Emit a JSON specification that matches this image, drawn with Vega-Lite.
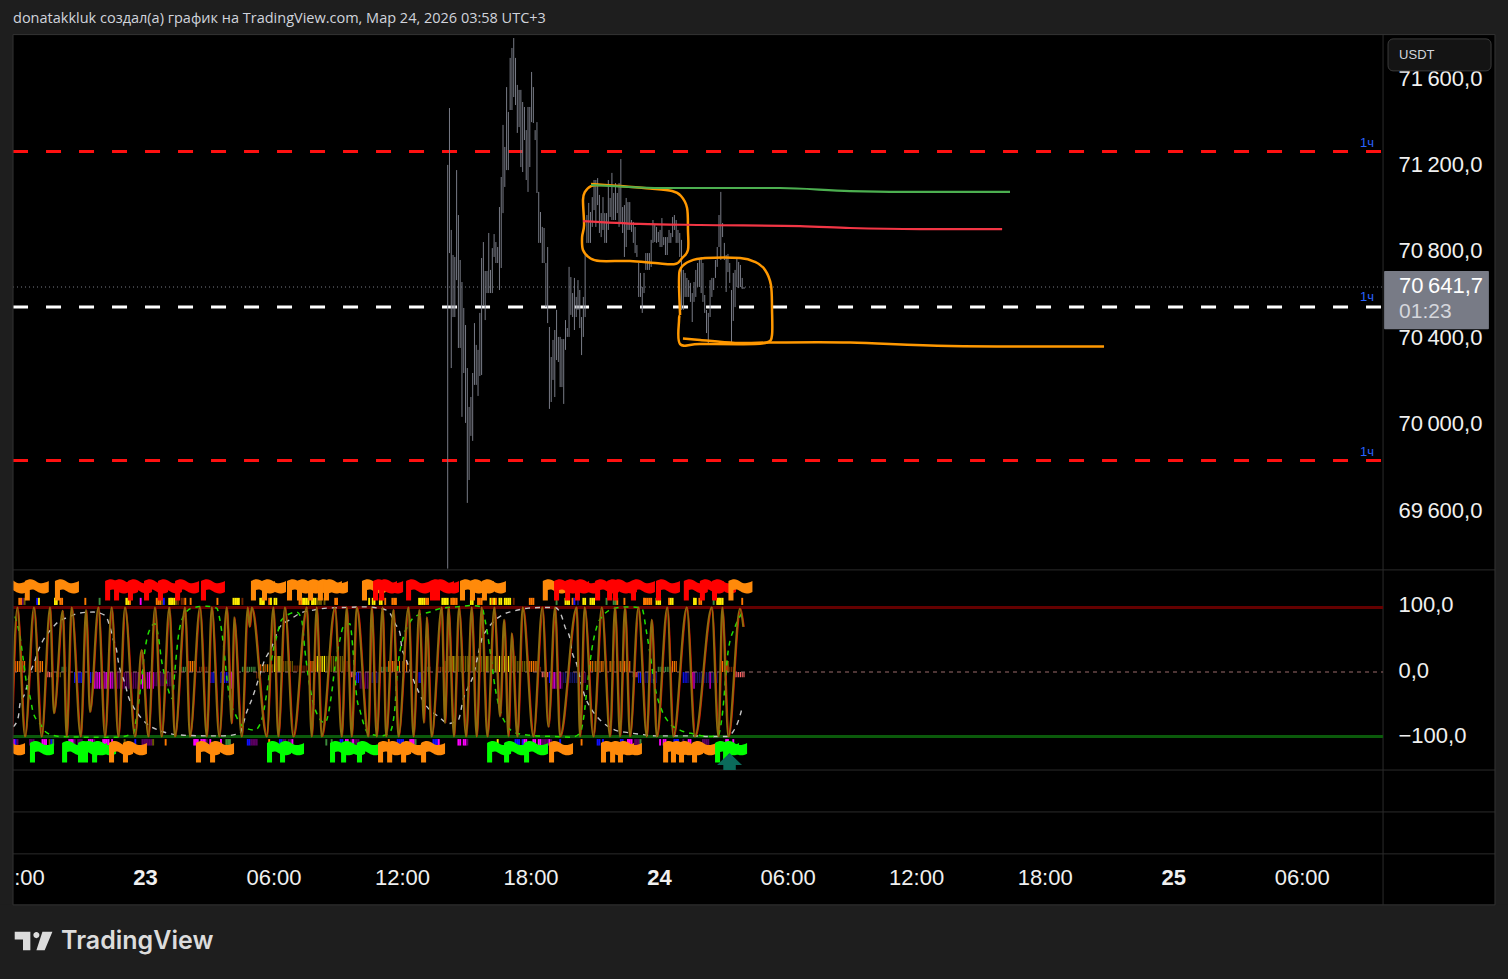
{
"$schema":"https://vega.github.io/schema/vega-lite/v6.json",
"width":1508,"height":979,"padding":0,"autosize":{"type":"none"},
"background":"#1e1e1e",
"view":{"fill":"#000000","stroke":null},
"config":{"axis":{"title":null,"grid":false,"domain":false,"ticks":false,"labelColor":"#f0f0f0","labelFont":"Liberation Sans","labelFontSize":22,"labelPadding":0,"labelOverlap":false,"labelBound":false,"labelFlush":false}},
"datasets":{
"bars":[
{"b":169,"p":71198,"p2":69330},{"b":170,"p":71461,"p2":70790},{"b":171,"p":70897,"p2":70258},{"b":172,"p":70781,"p2":70494},{"b":173,"p":70772,"p2":70494},{"b":174,"p":71174,"p2":70665},{"b":175,"p":70966,"p2":70351},{"b":176,"p":70758,"p2":70351},{"b":177,"p":70656,"p2":70032},{"b":178,"p":70536,"p2":70235},{"b":179,"p":70457,"p2":70004},{"b":180,"p":70258,"p2":69634},{"b":181,"p":70078,"p2":69740},{"b":182,"p":70124,"p2":69944},{"b":183,"p":70235,"p2":69921},{"b":184,"p":70466,"p2":70180},{"b":185,"p":70365,"p2":70180},{"b":186,"p":70342,"p2":70129},{"b":187,"p":70513,"p2":70221},{"b":188,"p":70767,"p2":70226},{"b":189,"p":70841,"p2":70545},{"b":190,"p":70707,"p2":70480},{"b":191,"p":70707,"p2":70605},{"b":192,"p":70883,"p2":70605},{"b":193,"p":70712,"p2":70605},{"b":194,"p":70813,"p2":70605},{"b":195,"p":70878,"p2":70772},{"b":196,"p":70841,"p2":70744},{"b":197,"p":70818,"p2":70744},{"b":198,"p":71003,"p2":70619},{"b":199,"p":71142,"p2":70721},{"b":200,"p":71383,"p2":70975},{"b":201,"p":71281,"p2":71096},{"b":202,"p":71558,"p2":71174},{"b":203,"p":71443,"p2":71174},{"b":204,"p":71693,"p2":71452},{"b":205,"p":71739,"p2":71452},{"b":206,"p":71785,"p2":71512},{"b":207,"p":71693,"p2":71475},{"b":208,"p":71568,"p2":71346},{"b":209,"p":71545,"p2":71373},{"b":210,"p":71545,"p2":71188},{"b":211,"p":71489,"p2":71165},{"b":212,"p":71466,"p2":71313},{"b":213,"p":71359,"p2":71128},{"b":214,"p":71466,"p2":71073},{"b":215,"p":71466,"p2":71188},{"b":216,"p":71628,"p2":71396},{"b":217,"p":71558,"p2":71392},{"b":218,"p":71359,"p2":71313},{"b":219,"p":71396,"p2":71068},{"b":220,"p":71073,"p2":70837},{"b":221,"p":70980,"p2":70837},{"b":222,"p":70911,"p2":70744},{"b":223,"p":70906,"p2":70744},{"b":224,"p":70744,"p2":70540},{"b":225,"p":70818,"p2":70466},{"b":226,"p":70448,"p2":70069},{"b":227,"p":70309,"p2":70101},{"b":228,"p":70388,"p2":70203},{"b":229,"p":70434,"p2":70124},{"b":230,"p":70527,"p2":70295},{"b":231,"p":70402,"p2":70286},{"b":232,"p":70402,"p2":70170},{"b":233,"p":70392,"p2":70170},{"b":234,"p":70392,"p2":70092},{"b":235,"p":70480,"p2":70342},{"b":236,"p":70443,"p2":70402},{"b":237,"p":70726,"p2":70402},{"b":238,"p":70679,"p2":70504},{"b":239,"p":70605,"p2":70494},{"b":240,"p":70675,"p2":70434},{"b":241,"p":70587,"p2":70494},{"b":242,"p":70665,"p2":70527},{"b":243,"p":70619,"p2":70443},{"b":244,"p":70494,"p2":70318},{"b":245,"p":70587,"p2":70402},{"b":246,"p":70790,"p2":70494},{"b":247,"p":70966,"p2":70837},{"b":248,"p":71022,"p2":70837},{"b":249,"p":70980,"p2":70837},{"b":250,"p":71049,"p2":70911},{"b":251,"p":71128,"p2":70989},{"b":252,"p":71128,"p2":70911},{"b":253,"p":71137,"p2":71012},{"b":254,"p":71059,"p2":70883},{"b":255,"p":70975,"p2":70864},{"b":256,"p":71049,"p2":70897},{"b":257,"p":70975,"p2":70837},{"b":258,"p":70975,"p2":70837},{"b":259,"p":71128,"p2":70897},{"b":260,"p":71045,"p2":70957},{"b":261,"p":71161,"p2":70943},{"b":262,"p":71068,"p2":70943},{"b":263,"p":71114,"p2":70943},{"b":264,"p":71068,"p2":70975},{"b":265,"p":71114,"p2":70911},{"b":266,"p":71225,"p2":70929},{"b":267,"p":71003,"p2":70883},{"b":268,"p":71012,"p2":70772},{"b":269,"p":71045,"p2":70818},{"b":270,"p":71026,"p2":70897},{"b":271,"p":71026,"p2":70897},{"b":272,"p":70943,"p2":70888},{"b":273,"p":70934,"p2":70837},{"b":274,"p":70911,"p2":70790},{"b":275,"p":70827,"p2":70772},{"b":276,"p":70744,"p2":70587},{"b":277,"p":70698,"p2":70587},{"b":278,"p":70633,"p2":70513},{"b":279,"p":70698,"p2":70605},{"b":280,"p":70790,"p2":70712},{"b":281,"p":70790,"p2":70712},{"b":282,"p":70790,"p2":70712},{"b":283,"p":70851,"p2":70726},{"b":284,"p":70943,"p2":70837},{"b":285,"p":70920,"p2":70841},{"b":286,"p":70911,"p2":70837},{"b":287,"p":70888,"p2":70841},{"b":288,"p":70897,"p2":70818},{"b":289,"p":70952,"p2":70818},{"b":290,"p":70864,"p2":70827},{"b":291,"p":70864,"p2":70781},{"b":292,"p":70864,"p2":70781},{"b":293,"p":70897,"p2":70837},{"b":294,"p":70883,"p2":70837},{"b":295,"p":70957,"p2":70864},{"b":296,"p":70966,"p2":70897},{"b":297,"p":70943,"p2":70837},{"b":298,"p":70897,"p2":70837},{"b":299,"p":70883,"p2":70772},{"b":300,"p":70851,"p2":70527},{"b":301,"p":70712,"p2":70527},{"b":302,"p":70698,"p2":70587},{"b":303,"p":70675,"p2":70587},{"b":304,"p":70665,"p2":70587},{"b":305,"p":70652,"p2":70564},{"b":306,"p":70605,"p2":70471},{"b":307,"p":70656,"p2":70564},{"b":308,"p":70712,"p2":70587},{"b":309,"p":70744,"p2":70633},{"b":310,"p":70758,"p2":70633},{"b":311,"p":70772,"p2":70605},{"b":312,"p":70744,"p2":70564},{"b":313,"p":70596,"p2":70513},{"b":314,"p":70527,"p2":70420},{"b":315,"p":70513,"p2":70365},{"b":316,"p":70665,"p2":70494},{"b":317,"p":70675,"p2":70587},{"b":318,"p":70675,"p2":70619},{"b":319,"p":70758,"p2":70675},{"b":320,"p":70818,"p2":70726},{"b":321,"p":70966,"p2":70818},{"b":322,"p":71073,"p2":70758},{"b":323,"p":70929,"p2":70864},{"b":324,"p":70837,"p2":70758},{"b":325,"p":70781,"p2":70610},{"b":326,"p":70786,"p2":70702},{"b":327,"p":70744,"p2":70652},{"b":328,"p":70619,"p2":70374},{"b":329,"p":70698,"p2":70476},{"b":330,"p":70712,"p2":70540},{"b":331,"p":70772,"p2":70633},{"b":332,"p":70749,"p2":70628},{"b":333,"p":70735,"p2":70633},{"b":334,"p":70675,"p2":70624},{"b":335,"p":70633,"p2":70624}
],
"levels":[{"b":-74.5,"b2":691.9,"p":71260,"c":"#ff1010"},{"b":-74.5,"b2":691.9,"p":70540,"c":"#ffffff"},{"b":-74.5,"b2":691.9,"p":69830,"c":"#ff1010"}],
"drawings":[
{"s":"g","i":1,"b":249.3,"p":71105},{"s":"g","i":2,"b":265.5,"p":71098},{"s":"g","i":3,"b":288,"p":71091},{"s":"g","i":4,"b":310.4,"p":71091},{"s":"g","i":5,"b":355.2,"p":71091},{"s":"g","i":6,"b":394.4,"p":71077},{"s":"g","i":7,"b":439.2,"p":71073},{"s":"g","i":8,"b":484,"p":71073},
{"s":"r","i":1,"b":244.8,"p":70938},{"s":"r","i":2,"b":276.7,"p":70925},{"s":"r","i":3,"b":310.4,"p":70920},{"s":"r","i":4,"b":366.4,"p":70915},{"s":"r","i":5,"b":394.4,"p":70906},{"s":"r","i":6,"b":433.6,"p":70901},{"s":"r","i":7,"b":479.6,"p":70901},
{"s":"a","i":1,"b":249.3,"p":71110},{"s":"a","i":2,"b":265.5,"p":71100},{"s":"a","i":3,"b":282.4,"p":71089},{"s":"a","i":4,"b":294.7,"p":71077},{"s":"a","i":5,"b":299.7,"p":71054},{"s":"a","i":6,"b":303.1,"p":70999},{"s":"a","i":7,"b":303.6,"p":70897},{"s":"a","i":8,"b":303.6,"p":70804},{"s":"a","i":9,"b":300.3,"p":70767},{"s":"a","i":10,"b":296.4,"p":70739},{"s":"a","i":11,"b":285.2,"p":70744},{"s":"a","i":12,"b":271.1,"p":70753},{"s":"a","i":13,"b":254.3,"p":70753},{"s":"a","i":14,"b":248.7,"p":70767},{"s":"a","i":15,"b":244.8,"p":70804},{"s":"a","i":16,"b":244.3,"p":70864},{"s":"a","i":17,"b":245.4,"p":70920},{"s":"a","i":18,"b":244.8,"p":71036},{"s":"a","i":19,"b":245.9,"p":71073},{"s":"a","i":20,"b":249.3,"p":71100},{"s":"a","i":21,"b":255.5,"p":71105},
{"s":"c","i":1,"b":299.2,"p":70503},{"s":"c","i":2,"b":298.6,"p":70665},{"s":"c","i":3,"b":299.7,"p":70721},{"s":"c","i":4,"b":304.8,"p":70753},{"s":"c","i":5,"b":313.2,"p":70767},{"s":"c","i":6,"b":332.8,"p":70767},{"s":"c","i":7,"b":341.2,"p":70749},{"s":"c","i":8,"b":346.8,"p":70712},{"s":"c","i":9,"b":350.1,"p":70642},{"s":"c","i":10,"b":350.7,"p":70527},{"s":"c","i":11,"b":350.7,"p":70411},{"s":"c","i":12,"b":348.5,"p":70379},{"s":"c","i":13,"b":341.2,"p":70369},{"s":"c","i":14,"b":310.4,"p":70369},{"s":"c","i":15,"b":299.2,"p":70369},{"s":"c","i":16,"b":298.6,"p":70480},{"s":"c","i":17,"b":299.2,"p":70503},
{"s":"d","i":1,"b":300.8,"p":70395},{"s":"d","i":2,"b":310.4,"p":70388},{"s":"d","i":3,"b":330,"p":70374},{"s":"d","i":4,"b":349.6,"p":70376},{"s":"d","i":5,"b":394.4,"p":70376},{"s":"d","i":6,"b":450.4,"p":70360},{"s":"d","i":7,"b":536.7,"p":70358}
],
"hist":[
{"b":-73,"v":17,"c":"o"},{"b":-72,"v":17,"c":"o"},{"b":-71,"v":17,"c":"o"},{"b":-70,"v":17,"c":"o"},{"b":-69,"v":17,"c":"o"},{"b":-68,"v":17,"c":"o"},{"b":-62,"v":17,"c":"o"},{"b":-61,"v":17,"c":"o"},{"b":-60,"v":17,"c":"o"},{"b":-59,"v":17,"c":"o"},{"b":-58,"v":17,"c":"o"},{"b":-56,"v":-8,"c":"k"},{"b":-55,"v":-8,"c":"k"},{"b":-54,"v":-8,"c":"k"},{"b":-53,"v":-8,"c":"k"},{"b":-50,"v":-8,"c":"l"},{"b":-49,"v":-8,"c":"l"},{"b":-48,"v":-8,"c":"l"},{"b":-47,"v":8,"c":"g"},{"b":-46,"v":8,"c":"g"},{"b":-45,"v":8,"c":"g"},
{"b":-40,"v":-17,"c":"b"},{"b":-39,"v":-17,"c":"b"},{"b":-38,"v":-17,"c":"b"},{"b":-37,"v":-17,"c":"b"},{"b":-36,"v":-17,"c":"b"},{"b":-35,"v":-17,"c":"b"},{"b":-31,"v":-17,"c":"b"},{"b":-30,"v":-17,"c":"b"},{"b":-29,"v":-26,"c":"m"},{"b":-28,"v":-26,"c":"m"},{"b":-27,"v":-26,"c":"m"},{"b":-26,"v":-26,"c":"m"},{"b":-25,"v":-26,"c":"m"},{"b":-24,"v":-26,"c":"p"},{"b":-23,"v":-26,"c":"m"},{"b":-22,"v":-26,"c":"m"},{"b":-21,"v":-26,"c":"p"},{"b":-20,"v":-26,"c":"m"},{"b":-19,"v":-26,"c":"m"},{"b":-18,"v":-26,"c":"p"},{"b":-17,"v":-26,"c":"m"},{"b":-16,"v":-26,"c":"p"},{"b":-15,"v":-26,"c":"p"},{"b":-14,"v":-26,"c":"p"},{"b":-13,"v":-26,"c":"p"},{"b":-12,"v":-26,"c":"p"},{"b":-11,"v":-26,"c":"p"},{"b":-10,"v":-26,"c":"p"},{"b":-9,"v":-26,"c":"p"},{"b":-8,"v":-26,"c":"p"},{"b":-7,"v":-26,"c":"p"},{"b":-6,"v":-26,"c":"p"},{"b":-5,"v":-26,"c":"p"},{"b":-4,"v":-26,"c":"m"},{"b":-3,"v":-26,"c":"p"},{"b":-2,"v":-26,"c":"m"},{"b":-1,"v":-26,"c":"m"},{"b":0,"v":-26,"c":"p"},{"b":1,"v":-26,"c":"m"},{"b":2,"v":-26,"c":"m"},{"b":3,"v":-26,"c":"p"},{"b":4,"v":-26,"c":"m"},{"b":5,"v":-22,"c":"p"},{"b":6,"v":-22,"c":"p"},{"b":7,"v":-22,"c":"p"},{"b":8,"v":-22,"c":"p"},{"b":9,"v":-22,"c":"p"},{"b":10,"v":-22,"c":"p"},{"b":11,"v":-22,"c":"p"},{"b":12,"v":-22,"c":"p"},{"b":13,"v":-22,"c":"p"},{"b":14,"v":-22,"c":"p"},{"b":15,"v":-22,"c":"p"},
{"b":19,"v":8,"c":"g"},{"b":20,"v":8,"c":"g"},{"b":21,"v":8,"c":"g"},{"b":22,"v":8,"c":"g"},{"b":24,"v":17,"c":"o"},{"b":25,"v":17,"c":"o"},{"b":26,"v":17,"c":"o"},{"b":27,"v":17,"c":"o"},{"b":28,"v":17,"c":"o"},{"b":30,"v":8,"c":"r"},{"b":31,"v":8,"c":"r"},{"b":32,"v":8,"c":"r"},{"b":33,"v":8,"c":"r"},{"b":34,"v":8,"c":"r"},{"b":36,"v":-17,"c":"b"},{"b":37,"v":-17,"c":"b"},{"b":38,"v":-17,"c":"b"},{"b":42,"v":-17,"c":"b"},{"b":43,"v":-17,"c":"b"},{"b":44,"v":-17,"c":"b"},{"b":45,"v":-17,"c":"b"},{"b":46,"v":-17,"c":"b"},{"b":47,"v":-26,"c":"m"},{"b":48,"v":-26,"c":"m"},{"b":49,"v":-26,"c":"m"},{"b":54,"v":8,"c":"g"},{"b":55,"v":8,"c":"g"},{"b":56,"v":8,"c":"g"},{"b":57,"v":8,"c":"g"},{"b":58,"v":8,"c":"g"},{"b":59,"v":8,"c":"g"},{"b":60,"v":8,"c":"g"},{"b":61,"v":8,"c":"g"},{"b":62,"v":-10,"c":"r"},{"b":63,"v":-10,"c":"r"},{"b":64,"v":12,"c":"o"},{"b":65,"v":12,"c":"l"},{"b":66,"v":12,"c":"o"},{"b":67,"v":12,"c":"l"},{"b":68,"v":12,"c":"o"},{"b":69,"v":12,"c":"l"},{"b":70,"v":12,"c":"o"},{"b":71,"v":12,"c":"l"},{"b":72,"v":25,"c":"y"},{"b":73,"v":25,"c":"l"},{"b":74,"v":25,"c":"y"},{"b":75,"v":25,"c":"y"},{"b":76,"v":17,"c":"l"},{"b":77,"v":17,"c":"l"},{"b":78,"v":17,"c":"l"},{"b":79,"v":17,"c":"l"},{"b":80,"v":17,"c":"l"},{"b":81,"v":17,"c":"l"},{"b":82,"v":17,"c":"l"},{"b":83,"v":10,"c":"r"},{"b":84,"v":10,"c":"r"},{"b":85,"v":10,"c":"r"},{"b":86,"v":10,"c":"r"},{"b":87,"v":10,"c":"r"},{"b":88,"v":10,"c":"r"},{"b":89,"v":10,"c":"r"},{"b":90,"v":10,"c":"r"},{"b":91,"v":17,"c":"o"},{"b":92,"v":17,"c":"o"},{"b":93,"v":17,"c":"o"},{"b":94,"v":17,"c":"o"},{"b":95,"v":25,"c":"y"},{"b":96,"v":25,"c":"y"},{"b":97,"v":25,"c":"l"},{"b":98,"v":25,"c":"y"},{"b":99,"v":25,"c":"y"},{"b":100,"v":25,"c":"y"},{"b":101,"v":25,"c":"l"},{"b":102,"v":25,"c":"l"},{"b":103,"v":25,"c":"l"},{"b":104,"v":25,"c":"l"},{"b":105,"v":25,"c":"l"},{"b":106,"v":25,"c":"l"},{"b":107,"v":25,"c":"l"},{"b":108,"v":25,"c":"l"},{"b":109,"v":25,"c":"l"},{"b":110,"v":25,"c":"l"},{"b":111,"v":17,"c":"r"},{"b":112,"v":17,"c":"r"},{"b":113,"v":17,"c":"r"},{"b":115,"v":-8,"c":"k"},{"b":116,"v":-8,"c":"k"},{"b":117,"v":-17,"c":"b"},{"b":118,"v":-17,"c":"b"},{"b":119,"v":-17,"c":"b"},{"b":120,"v":-26,"c":"p"},{"b":121,"v":-26,"c":"p"},{"b":122,"v":-26,"c":"p"},{"b":123,"v":-26,"c":"p"},{"b":124,"v":-26,"c":"p"},{"b":125,"v":-26,"c":"p"},{"b":126,"v":-17,"c":"d"},{"b":127,"v":-17,"c":"d"},{"b":128,"v":-17,"c":"d"},{"b":129,"v":-17,"c":"d"},{"b":130,"v":-17,"c":"d"},{"b":131,"v":-17,"c":"d"},{"b":132,"v":8,"c":"g"},{"b":133,"v":8,"c":"g"},{"b":134,"v":8,"c":"g"},{"b":135,"v":8,"c":"g"},
{"b":136,"v":17,"c":"o"},{"b":137,"v":17,"c":"o"},{"b":138,"v":17,"c":"o"},{"b":139,"v":17,"c":"o"},{"b":140,"v":17,"c":"o"},{"b":142,"v":17,"c":"o"},{"b":144,"v":17,"c":"o"},{"b":146,"v":17,"c":"o"},{"b":148,"v":17,"c":"o"},{"b":153,"v":-17,"c":"b"},{"b":154,"v":-17,"c":"b"},{"b":158,"v":8,"c":"g"},{"b":159,"v":8,"c":"g"},{"b":163,"v":8,"c":"r"},{"b":164,"v":8,"c":"r"},{"b":165,"v":8,"c":"r"},{"b":166,"v":8,"c":"r"},{"b":167,"v":17,"c":"l"},{"b":168,"v":17,"c":"l"},{"b":169,"v":25,"c":"y"},{"b":170,"v":25,"c":"l"},{"b":171,"v":25,"c":"y"},{"b":172,"v":25,"c":"y"},{"b":173,"v":25,"c":"l"},{"b":174,"v":25,"c":"y"},{"b":175,"v":25,"c":"l"},{"b":176,"v":25,"c":"l"},{"b":177,"v":25,"c":"l"},{"b":178,"v":25,"c":"l"},{"b":179,"v":25,"c":"l"},{"b":180,"v":25,"c":"l"},{"b":181,"v":25,"c":"l"},{"b":182,"v":25,"c":"l"},{"b":183,"v":25,"c":"l"},{"b":184,"v":25,"c":"l"},{"b":185,"v":25,"c":"l"},{"b":186,"v":25,"c":"l"},{"b":187,"v":25,"c":"l"},{"b":188,"v":25,"c":"l"},{"b":189,"v":25,"c":"l"},{"b":190,"v":25,"c":"l"},{"b":191,"v":25,"c":"y"},{"b":192,"v":25,"c":"l"},{"b":193,"v":25,"c":"l"},{"b":194,"v":25,"c":"l"},{"b":195,"v":25,"c":"l"},{"b":196,"v":25,"c":"y"},{"b":197,"v":25,"c":"l"},{"b":198,"v":25,"c":"y"},{"b":199,"v":25,"c":"l"},{"b":200,"v":25,"c":"l"},{"b":201,"v":25,"c":"y"},{"b":202,"v":25,"c":"l"},{"b":203,"v":25,"c":"y"},{"b":204,"v":25,"c":"l"},{"b":205,"v":25,"c":"l"},{"b":206,"v":25,"c":"y"},{"b":207,"v":25,"c":"l"},{"b":208,"v":17,"c":"l"},{"b":209,"v":17,"c":"l"},{"b":210,"v":17,"c":"l"},{"b":211,"v":17,"c":"l"},{"b":212,"v":17,"c":"l"},{"b":213,"v":17,"c":"l"},{"b":214,"v":17,"c":"l"},{"b":215,"v":17,"c":"o"},{"b":216,"v":17,"c":"o"},{"b":217,"v":17,"c":"o"},{"b":218,"v":17,"c":"o"},{"b":219,"v":17,"c":"o"},{"b":220,"v":8,"c":"r"},{"b":221,"v":8,"c":"r"},{"b":222,"v":-8,"c":"k"},{"b":223,"v":-8,"c":"k"},{"b":224,"v":-8,"c":"k"},{"b":225,"v":-8,"c":"k"},{"b":226,"v":-17,"c":"b"},{"b":227,"v":-17,"c":"b"},{"b":228,"v":-26,"c":"m"},{"b":229,"v":-26,"c":"m"},{"b":230,"v":-26,"c":"p"},{"b":231,"v":-26,"c":"m"},{"b":232,"v":-26,"c":"m"},{"b":233,"v":-26,"c":"p"},{"b":234,"v":-17,"c":"d"},{"b":235,"v":-17,"c":"d"},{"b":236,"v":-17,"c":"d"},{"b":237,"v":-17,"c":"d"},{"b":238,"v":-17,"c":"d"},{"b":239,"v":-17,"c":"d"},{"b":240,"v":-17,"c":"d"},{"b":241,"v":-17,"c":"d"},{"b":242,"v":-17,"c":"d"},{"b":243,"v":-17,"c":"d"},{"b":244,"v":-17,"c":"p"},{"b":245,"v":-17,"c":"p"},{"b":246,"v":-17,"c":"p"},{"b":249,"v":17,"c":"o"},{"b":250,"v":17,"c":"o"},{"b":251,"v":17,"c":"l"},{"b":252,"v":17,"c":"o"},{"b":253,"v":17,"c":"o"},{"b":254,"v":17,"c":"l"},{"b":255,"v":17,"c":"o"},{"b":256,"v":17,"c":"o"},{"b":258,"v":17,"c":"o"},{"b":260,"v":17,"c":"o"},{"b":261,"v":17,"c":"l"},{"b":262,"v":17,"c":"o"},{"b":264,"v":17,"c":"o"},{"b":265,"v":17,"c":"l"},{"b":266,"v":17,"c":"o"},{"b":268,"v":17,"c":"o"},{"b":269,"v":17,"c":"o"},{"b":271,"v":17,"c":"o"},{"b":273,"v":-8,"c":"k"},{"b":274,"v":-8,"c":"k"},{"b":275,"v":-8,"c":"k"},{"b":276,"v":-17,"c":"b"},{"b":277,"v":-17,"c":"b"},{"b":278,"v":-17,"c":"d"},{"b":279,"v":-17,"c":"d"},{"b":280,"v":-17,"c":"d"},{"b":281,"v":-17,"c":"d"},{"b":282,"v":-17,"c":"d"},{"b":283,"v":-17,"c":"d"},{"b":284,"v":-17,"c":"d"},{"b":285,"v":-17,"c":"d"},{"b":286,"v":-17,"c":"d"},{"b":287,"v":8,"c":"g"},{"b":288,"v":8,"c":"g"},{"b":289,"v":8,"c":"g"},{"b":290,"v":8,"c":"g"},{"b":291,"v":8,"c":"g"},{"b":292,"v":8,"c":"g"},{"b":293,"v":8,"c":"g"},{"b":294,"v":8,"c":"g"},{"b":295,"v":17,"c":"o"},{"b":296,"v":17,"c":"o"},{"b":297,"v":17,"c":"o"},{"b":301,"v":-17,"c":"b"},{"b":302,"v":-17,"c":"b"},{"b":303,"v":-17,"c":"b"},{"b":304,"v":-17,"c":"d"},{"b":305,"v":-17,"c":"d"},{"b":306,"v":-26,"c":"m"},{"b":307,"v":-26,"c":"m"},{"b":308,"v":-17,"c":"d"},{"b":309,"v":-17,"c":"d"},{"b":310,"v":-17,"c":"d"},{"b":311,"v":-17,"c":"d"},{"b":312,"v":-17,"c":"d"},{"b":313,"v":-17,"c":"d"},{"b":314,"v":-17,"c":"d"},{"b":315,"v":-17,"c":"d"},{"b":316,"v":-26,"c":"m"},{"b":317,"v":-17,"c":"d"},{"b":318,"v":-17,"c":"d"},{"b":319,"v":-17,"c":"d"},{"b":320,"v":-17,"c":"d"},{"b":323,"v":17,"c":"o"},{"b":324,"v":17,"c":"o"},{"b":325,"v":17,"c":"o"},{"b":326,"v":17,"c":"o"},{"b":327,"v":8,"c":"r"},{"b":328,"v":8,"c":"r"},{"b":329,"v":8,"c":"r"},{"b":330,"v":-8,"c":"k"},{"b":331,"v":-8,"c":"k"},{"b":332,"v":-8,"c":"k"},{"b":333,"v":-8,"c":"k"},{"b":334,"v":-8,"c":"k"},{"b":335,"v":-8,"c":"k"}
],
"chipsTop":[
{"b":-71,"c":"o"},{"b":-70,"c":"o"},{"b":-69,"c":"p"},{"b":-68,"c":"l"},{"b":-61,"c":"b"},{"b":-60,"c":"y"},{"b":-51,"c":"y"},{"b":-50,"c":"y"},{"b":-48,"c":"o"},{"b":-47,"c":"o"},{"b":-34,"c":"o"},{"b":-26,"c":"g"},{"b":-11,"c":"y"},{"b":-10,"c":"y"},{"b":-9,"c":"o"},{"b":-3,"c":"m"},{"b":6,"c":"o"},{"b":7,"c":"o"},{"b":8,"c":"o"},{"b":9,"c":"l"},{"b":10,"c":"b"},{"b":13,"c":"y"},{"b":14,"c":"y"},{"b":15,"c":"y"},{"b":16,"c":"y"},{"b":17,"c":"l"},{"b":18,"c":"r"},{"b":20,"c":"r"},{"b":21,"c":"r"},{"b":22,"c":"o"},{"b":25,"c":"o"},{"b":40,"c":"o"},{"b":49,"c":"y"},{"b":50,"c":"y"},{"b":51,"c":"y"},{"b":52,"c":"y"},{"b":54,"c":"r"},{"b":64,"c":"y"},{"b":65,"c":"y"},{"b":66,"c":"y"},{"b":69,"c":"o"},{"b":70,"c":"y"},{"b":72,"c":"y"},{"b":73,"c":"y"},{"b":86,"c":"o"},{"b":87,"c":"o"},{"b":88,"c":"y"},{"b":89,"c":"y"},{"b":90,"c":"y"},{"b":91,"c":"y"},{"b":93,"c":"y"},{"b":94,"c":"y"},{"b":95,"c":"y"},{"b":96,"c":"l"},{"b":97,"c":"l"},{"b":98,"c":"l"},{"b":100,"c":"l"},{"b":106,"c":"o"},{"b":107,"c":"o"},{"b":125,"c":"y"},{"b":127,"c":"y"},{"b":128,"c":"y"},{"b":131,"c":"y"},{"b":132,"c":"y"},{"b":134,"c":"o"},{"b":138,"c":"o"},{"b":139,"c":"o"},{"b":140,"c":"o"},{"b":153,"c":"y"},{"b":154,"c":"y"},{"b":155,"c":"y"},{"b":156,"c":"y"},{"b":157,"c":"o"},{"b":158,"c":"o"},{"b":166,"c":"y"},{"b":167,"c":"y"},{"b":168,"c":"y"},{"b":169,"c":"y"},{"b":171,"c":"o"},{"b":172,"c":"o"},{"b":173,"c":"o"},{"b":174,"c":"o"},{"b":182,"c":"y"},{"b":183,"c":"y"},{"b":186,"c":"o"},{"b":187,"c":"o"},{"b":188,"c":"o"},{"b":193,"c":"y"},{"b":194,"c":"o"},{"b":195,"c":"y"},{"b":196,"c":"o"},{"b":198,"c":"y"},{"b":199,"c":"y"},{"b":201,"c":"y"},{"b":202,"c":"y"},{"b":203,"c":"y"},{"b":204,"c":"y"},{"b":206,"c":"r"},{"b":215,"c":"o"},{"b":216,"c":"o"},{"b":217,"c":"o"},{"b":230,"c":"g"},{"b":235,"c":"y"},{"b":236,"c":"y"},{"b":237,"c":"y"},{"b":239,"c":"o"},{"b":240,"c":"b"},{"b":242,"c":"d"},{"b":245,"c":"y"},{"b":246,"c":"y"},{"b":249,"c":"y"},{"b":250,"c":"y"},{"b":251,"c":"y"},{"b":258,"c":"g"},{"b":262,"c":"g"},{"b":263,"c":"g"},{"b":264,"c":"o"},{"b":268,"c":"o"},{"b":279,"c":"o"},{"b":280,"c":"o"},{"b":281,"c":"o"},{"b":282,"c":"o"},{"b":283,"c":"o"},{"b":286,"c":"y"},{"b":287,"c":"y"},{"b":288,"c":"y"},{"b":293,"c":"o"},{"b":294,"c":"y"},{"b":295,"c":"y"},{"b":307,"c":"y"},{"b":308,"c":"y"},{"b":310,"c":"o"},{"b":311,"c":"o"},{"b":318,"c":"g"},{"b":320,"c":"y"},{"b":321,"c":"y"},{"b":322,"c":"y"},{"b":323,"c":"y"},{"b":334,"c":"o"}
],
"chipsBottom":[
{"b":-74,"c":"m"},{"b":-73,"c":"b"},{"b":-72,"c":"p"},{"b":-65,"c":"p"},{"b":-64,"c":"p"},{"b":-63,"c":"p"},{"b":-58,"c":"m"},{"b":-57,"c":"m"},{"b":-56,"c":"m"},{"b":-54,"c":"l"},{"b":-53,"c":"b"},{"b":-52,"c":"g"},{"b":-43,"c":"m"},{"b":-42,"c":"m"},{"b":-41,"c":"m"},{"b":-40,"c":"p"},{"b":-38,"c":"p"},{"b":-37,"c":"p"},{"b":-36,"c":"p"},{"b":-32,"c":"m"},{"b":-31,"c":"m"},{"b":-30,"c":"m"},{"b":-29,"c":"p"},{"b":-24,"c":"m"},{"b":-23,"c":"m"},{"b":-22,"c":"m"},{"b":-21,"c":"m"},{"b":-19,"c":"m"},{"b":-12,"c":"l"},{"b":-6,"c":"b"},{"b":-2,"c":"p"},{"b":-1,"c":"p"},{"b":0,"c":"p"},{"b":1,"c":"p"},{"b":2,"c":"p"},{"b":3,"c":"p"},{"b":4,"c":"l"},{"b":11,"c":"o"},{"b":27,"c":"m"},{"b":28,"c":"m"},{"b":29,"c":"m"},{"b":31,"c":"m"},{"b":32,"c":"m"},{"b":33,"c":"m"},{"b":34,"c":"p"},{"b":36,"c":"m"},{"b":42,"c":"m"},{"b":45,"c":"g"},{"b":46,"c":"g"},{"b":47,"c":"g"},{"b":57,"c":"b"},{"b":58,"c":"b"},{"b":59,"c":"p"},{"b":60,"c":"p"},{"b":61,"c":"p"},{"b":62,"c":"p"},{"b":69,"c":"o"},{"b":75,"c":"b"},{"b":76,"c":"b"},{"b":77,"c":"p"},{"b":78,"c":"p"},{"b":80,"c":"p"},{"b":81,"c":"p"},{"b":82,"c":"m"},{"b":101,"c":"g"},{"b":104,"c":"g"},{"b":109,"c":"b"},{"b":110,"c":"b"},{"b":112,"c":"m"},{"b":113,"c":"m"},{"b":115,"c":"p"},{"b":116,"c":"m"},{"b":117,"c":"p"},{"b":118,"c":"p"},{"b":119,"c":"p"},{"b":136,"c":"o"},{"b":141,"c":"b"},{"b":142,"c":"b"},{"b":143,"c":"b"},{"b":144,"c":"b"},{"b":148,"c":"m"},{"b":149,"c":"m"},{"b":150,"c":"m"},{"b":151,"c":"g"},{"b":161,"c":"b"},{"b":162,"c":"b"},{"b":163,"c":"b"},{"b":164,"c":"m"},{"b":175,"c":"m"},{"b":176,"c":"m"},{"b":178,"c":"m"},{"b":179,"c":"m"},{"b":180,"c":"p"},{"b":197,"c":"y"},{"b":207,"c":"b"},{"b":208,"c":"b"},{"b":209,"c":"b"},{"b":211,"c":"b"},{"b":212,"c":"m"},{"b":213,"c":"m"},{"b":217,"c":"m"},{"b":218,"c":"m"},{"b":220,"c":"m"},{"b":221,"c":"m"},{"b":222,"c":"p"},{"b":223,"c":"p"},{"b":224,"c":"p"},{"b":225,"c":"p"},{"b":226,"c":"m"},{"b":227,"c":"p"},{"b":232,"c":"b"},{"b":244,"c":"o"},{"b":253,"c":"b"},{"b":254,"c":"b"},{"b":256,"c":"b"},{"b":266,"c":"b"},{"b":267,"c":"b"},{"b":270,"c":"m"},{"b":271,"c":"m"},{"b":272,"c":"m"},{"b":274,"c":"p"},{"b":275,"c":"p"},{"b":276,"c":"p"},{"b":277,"c":"g"},{"b":288,"c":"m"},{"b":290,"c":"m"},{"b":291,"c":"m"},{"b":296,"c":"b"},{"b":297,"c":"b"},{"b":298,"c":"b"},{"b":301,"c":"p"},{"b":304,"c":"m"},{"b":305,"c":"m"},{"b":312,"c":"p"},{"b":313,"c":"p"},{"b":314,"c":"p"},{"b":315,"c":"p"},{"b":325,"c":"m"},{"b":326,"c":"m"},{"b":329,"c":"m"}
],
"flagsTop":[
{"b":-73.4,"c":"O"},{"b":-61.2,"c":"O"},{"b":-44.3,"c":"O"},{"b":-16.2,"c":"R"},{"b":-11.2,"c":"R"},{"b":-3.4,"c":"R"},{"b":5.6,"c":"R"},{"b":13.4,"c":"R"},{"b":23,"c":"R"},{"b":37.5,"c":"R"},{"b":65.5,"c":"O"},{"b":71.7,"c":"O"},{"b":85.7,"c":"O"},{"b":91.3,"c":"O"},{"b":97.5,"c":"O"},{"b":103,"c":"O"},{"b":106.4,"c":"O"},{"b":127.7,"c":"O"},{"b":133.9,"c":"R"},{"b":137.3,"c":"R"},{"b":152.4,"c":"R"},{"b":165.8,"c":"R"},{"b":168.6,"c":"R"},{"b":182.6,"c":"O"},{"b":188.2,"c":"O"},{"b":194.9,"c":"O"},{"b":229,"c":"O"},{"b":235.3,"c":"R"},{"b":241.5,"c":"R"},{"b":247,"c":"R"},{"b":258.3,"c":"R"},{"b":265,"c":"R"},{"b":268.3,"c":"R"},{"b":278.4,"c":"R"},{"b":292.4,"c":"R"},{"b":308,"c":"R"},{"b":317,"c":"R"},{"b":323.8,"c":"R"},{"b":333,"c":"O"}
],
"flagsBottom":[
{"b":-74.5,"c":"O"},{"b":-58.3,"c":"G"},{"b":-40.3,"c":"G"},{"b":-31.4,"c":"G"},{"b":-28.6,"c":"G"},{"b":-23.5,"c":"G"},{"b":-14,"c":"O"},{"b":-6.2,"c":"O"},{"b":34.7,"c":"O"},{"b":42.6,"c":"O"},{"b":74.5,"c":"G"},{"b":81.8,"c":"G"},{"b":109.8,"c":"G"},{"b":116,"c":"G"},{"b":124.9,"c":"G"},{"b":136.7,"c":"O"},{"b":141.8,"c":"O"},{"b":149.6,"c":"O"},{"b":160.8,"c":"O"},{"b":197.8,"c":"G"},{"b":207.3,"c":"G"},{"b":218.5,"c":"G"},{"b":232.5,"c":"O"},{"b":261.6,"c":"O"},{"b":266.7,"c":"O"},{"b":271.1,"c":"O"},{"b":296.4,"c":"O"},{"b":300.8,"c":"O"},{"b":305.3,"c":"O"},{"b":312.6,"c":"O"},{"b":325.5,"c":"G"},{"b":330,"c":"G"}
],
"fast":[
{"b":-75.3,"v":-100},{"b":-72.1,"v":100},{"b":-67.8,"v":-100},{"b":-62.8,"v":100},{"b":-58.5,"v":-100},{"b":-53.8,"v":100},{"b":-51.6,"v":-64},{"b":-46.7,"v":95},{"b":-44.5,"v":-100},{"b":-41.7,"v":100},{"b":-36.6,"v":-100},{"b":-33.6,"v":96},{"b":-31.4,"v":-62},{"b":-26.7,"v":100},{"b":-23,"v":-100},{"b":-19.3,"v":100},{"b":-15.5,"v":-100},{"b":-11.8,"v":100},{"b":-6.2,"v":-100},{"b":-2.5,"v":34},{"b":1.3,"v":-100},{"b":5,"v":100},{"b":8.7,"v":-100},{"b":13,"v":100},{"b":16.2,"v":-100},{"b":21.8,"v":100},{"b":24.6,"v":-100},{"b":30.2,"v":100},{"b":34,"v":-100},{"b":36.8,"v":100},{"b":41,"v":-100},{"b":45.2,"v":100},{"b":48,"v":-80},{"b":49.3,"v":85},{"b":53.6,"v":-100},{"b":57,"v":100},{"b":58,"v":70},{"b":59.2,"v":100},{"b":67.6,"v":-100},{"b":71.3,"v":100},{"b":74.1,"v":-100},{"b":77.8,"v":100},{"b":82.5,"v":-100},{"b":90,"v":100},{"b":92.8,"v":-100},{"b":95.6,"v":100},{"b":98.4,"v":-100},{"b":105.8,"v":100},{"b":109.6,"v":-100},{"b":112.4,"v":100},{"b":115.2,"v":-100},{"b":118,"v":100},{"b":124.5,"v":-100},{"b":126.4,"v":100},{"b":129.2,"v":-100},{"b":132.5,"v":100},{"b":134.5,"v":-100},{"b":138.6,"v":96},{"b":141.4,"v":-100},{"b":147,"v":100},{"b":149.8,"v":-100},{"b":153.1,"v":96},{"b":155.7,"v":-79},{"b":157.2,"v":85},{"b":160,"v":-100},{"b":165.6,"v":100},{"b":167.5,"v":-79},{"b":169.4,"v":100},{"b":172.5,"v":-100},{"b":175.3,"v":100},{"b":179.3,"v":-100},{"b":182.4,"v":100},{"b":185.2,"v":-100},{"b":188,"v":100},{"b":191.2,"v":-100},{"b":195.1,"v":100},{"b":198.3,"v":-69},{"b":200.6,"v":81},{"b":203,"v":-100},{"b":204.8,"v":60},{"b":208,"v":-100},{"b":211,"v":100},{"b":217,"v":-100},{"b":222,"v":100},{"b":225.4,"v":-85},{"b":229.1,"v":100},{"b":231.9,"v":-100},{"b":241.2,"v":100},{"b":243.1,"v":-100},{"b":245.7,"v":100},{"b":250.6,"v":-100},{"b":255.3,"v":100},{"b":259.9,"v":-100},{"b":262.7,"v":100},{"b":265.5,"v":-100},{"b":268.3,"v":100},{"b":271.1,"v":-100},{"b":275.8,"v":100},{"b":280.5,"v":-100},{"b":283.3,"v":81},{"b":286.1,"v":-100},{"b":292,"v":100},{"b":295.4,"v":-100},{"b":302.9,"v":100},{"b":307.5,"v":-100},{"b":316.9,"v":100},{"b":320.6,"v":-100},{"b":322.8,"v":100},{"b":326.2,"v":-100},{"b":332.7,"v":98},{"b":334.6,"v":70}
],
"slow":[
{"b":-73.4,"v":86},{"b":-70.6,"v":55},{"b":-68.7,"v":18},{"b":-66.9,"v":-18},{"b":-65,"v":-38},{"b":-63.1,"v":-64},{"b":-59.4,"v":-80},{"b":-55.7,"v":-94},{"b":-48.2,"v":-100},{"b":-33.3,"v":-101},{"b":-16.5,"v":-101},{"b":-7.1,"v":-95},{"b":-5.3,"v":-69},{"b":-2.5,"v":-12},{"b":-0.6,"v":34},{"b":1.3,"v":60},{"b":5,"v":75},{"b":6.9,"v":55},{"b":8.7,"v":18},{"b":10.6,"v":-7},{"b":12.5,"v":-28},{"b":14.7,"v":-41},{"b":16.2,"v":3},{"b":18.1,"v":55},{"b":20.9,"v":86},{"b":25.6,"v":99},{"b":34,"v":102},{"b":39.6,"v":99},{"b":41.4,"v":81},{"b":43.3,"v":44},{"b":45.2,"v":-7},{"b":47,"v":-43},{"b":49.8,"v":-64},{"b":54.5,"v":-85},{"b":61,"v":-90},{"b":64.8,"v":-74},{"b":67.6,"v":-33},{"b":69.4,"v":3},{"b":71.3,"v":34},{"b":73.2,"v":55},{"b":76,"v":81},{"b":84.4,"v":93},{"b":87.2,"v":81},{"b":89,"v":34},{"b":90.9,"v":-7},{"b":92.8,"v":-38},{"b":96.5,"v":-69},{"b":100.2,"v":-79},{"b":104,"v":-33},{"b":105.8,"v":8},{"b":108.6,"v":50},{"b":110.5,"v":70},{"b":114.2,"v":75},{"b":116.1,"v":29},{"b":118,"v":-38},{"b":119.8,"v":-59},{"b":124.5,"v":-95},{"b":132,"v":-99},{"b":136.7,"v":-93},{"b":139.5,"v":-54},{"b":140.4,"v":-12},{"b":144.2,"v":55},{"b":147,"v":73},{"b":150.7,"v":86},{"b":159.1,"v":93},{"b":165.6,"v":99},{"b":174,"v":101},{"b":182.4,"v":103},{"b":188,"v":101},{"b":189.9,"v":81},{"b":192.7,"v":34},{"b":195.5,"v":-23},{"b":198.3,"v":-59},{"b":202,"v":-82},{"b":207.6,"v":-95},{"b":215.1,"v":-98},{"b":228.2,"v":-100},{"b":238.5,"v":-101},{"b":243.1,"v":-95},{"b":245,"v":-74},{"b":247.8,"v":-7},{"b":249.7,"v":34},{"b":252.5,"v":70},{"b":256.2,"v":88},{"b":262.7,"v":99},{"b":271.1,"v":101},{"b":277.7,"v":99},{"b":280.5,"v":60},{"b":282.3,"v":29},{"b":285.1,"v":-23},{"b":288.9,"v":-59},{"b":293.5,"v":-80},{"b":299.1,"v":-90},{"b":306.6,"v":-96},{"b":315.9,"v":-100},{"b":320.6,"v":-98},{"b":322.5,"v":-74},{"b":326.2,"v":34},{"b":330,"v":70},{"b":333.7,"v":91}
],
"long":[
{"b":-74.3,"v":-85},{"b":-71.5,"v":-69},{"b":-70.6,"v":-49},{"b":-67.8,"v":-33},{"b":-65,"v":-2},{"b":-62.2,"v":18},{"b":-60.3,"v":34},{"b":-57.5,"v":50},{"b":-53.8,"v":64},{"b":-49.1,"v":78},{"b":-43.5,"v":85},{"b":-37.9,"v":91},{"b":-29.5,"v":93},{"b":-23,"v":88},{"b":-20.2,"v":70},{"b":-18.3,"v":50},{"b":-16.5,"v":34},{"b":-15.5,"v":16},{"b":-11.8,"v":-18},{"b":-9.9,"v":-38},{"b":-7.1,"v":-54},{"b":-3.4,"v":-69},{"b":0.3,"v":-80},{"b":6.9,"v":-90},{"b":12.5,"v":-95},{"b":20.9,"v":-98},{"b":34,"v":-99},{"b":43.3,"v":-99},{"b":52.6,"v":-95},{"b":54.5,"v":-80},{"b":56.4,"v":-62},{"b":59.2,"v":-43},{"b":62.9,"v":-12},{"b":65.7,"v":13},{"b":70.4,"v":39},{"b":75,"v":70},{"b":80.6,"v":81},{"b":86.2,"v":91},{"b":93.7,"v":96},{"b":101.2,"v":99},{"b":110.5,"v":100},{"b":122.6,"v":101},{"b":134.8,"v":96},{"b":136.7,"v":91},{"b":139.5,"v":75},{"b":142.3,"v":60},{"b":143.2,"v":39},{"b":145.1,"v":24},{"b":147.5,"v":6},{"b":149.8,"v":-12},{"b":152.6,"v":-30},{"b":155.4,"v":-46},{"b":159.1,"v":-59},{"b":163.8,"v":-69},{"b":169.4,"v":-80},{"b":175,"v":-74},{"b":177.8,"v":-41},{"b":180.6,"v":-23},{"b":183.4,"v":-5},{"b":186.2,"v":29},{"b":188,"v":50},{"b":190.8,"v":65},{"b":194.6,"v":78},{"b":199.2,"v":88},{"b":206.7,"v":95},{"b":214.2,"v":99},{"b":222.6,"v":100},{"b":229.1,"v":100},{"b":232.9,"v":86},{"b":234.7,"v":70},{"b":237.5,"v":52},{"b":238.5,"v":34},{"b":241.2,"v":13},{"b":244,"v":-20},{"b":245.9,"v":-38},{"b":248.7,"v":-54},{"b":252.5,"v":-69},{"b":257.1,"v":-81},{"b":262.7,"v":-90},{"b":270.2,"v":-94},{"b":278.6,"v":-97},{"b":285.1,"v":-99},{"b":293.5,"v":-99},{"b":300,"v":-99},{"b":307.5,"v":-99},{"b":315,"v":-100},{"b":325.3,"v":-100},{"b":329,"v":-92},{"b":331.8,"v":-76},{"b":334.2,"v":-53}
]
},
"resolve":{"scale":{"y":"independent"},"axis":{"y":"independent","x":"independent"}},
"layer":[
{"encoding":{
"x":{"field":"b","type":"quantitative","scale":{"domain":[-81.8,763],"nice":false,"zero":false},"axis":{"orient":"bottom","offset":-102,"values":[-72,0,72,144,216,288,360,432,504,576,648],"labelAlign":"center","labelBaseline":"middle","labelOffset":{"condition":{"test":"datum.value==-72","value":11.5},"value":-1},"labelExpr":"datum.value==-72?':00':datum.value%288==0?''+(23+datum.value/288):(((datum.value+288)%288)/12<10?'0':'')+((datum.value+288)%288)/12+':00'","labelFontWeight":{"condition":{"test":"datum.value%288==0","value":"bold"},"value":"normal"}}},
"y":{"field":"p","type":"quantitative","scale":{"domain":[67431,71961],"nice":false,"zero":false},"axis":{"orient":"right","offset":-110,"values":[69600,70000,70400,70800,71200,71600],"labelAlign":"left","labelBaseline":"middle","labelExpr":"replace(replace(format(datum.value,',.1f'),',','\u2009'),'.',',')"}}},
"layer":[
{"data":{"values":[{"b":-74.5,"b2":755.7,"p":69324},{"b":-74.5,"b2":755.7,"p":68398},{"b":-74.5,"b2":755.7,"p":68204},{"b":-74.5,"b2":755.7,"p":68010}]},"mark":{"type":"rule","color":"#2b2b2b","strokeWidth":1},"encoding":{"x2":{"field":"b2"}}},
{"data":{"values":[{"b":693,"p":71801,"p2":67774}]},"mark":{"type":"rule","color":"#2b2b2b","strokeWidth":1},"encoding":{"y2":{"field":"p2"}}},
{"data":{"name":"levels"},"mark":{"type":"rule","strokeWidth":3,"strokeDash":[15,18]},"encoding":{"x2":{"field":"b2"},"color":{"field":"c","type":"nominal","scale":null,"legend":null}}},
{"data":{"values":[{"b":-74.5,"b2":693,"p":70633}]},"mark":{"type":"rule","color":"#787b86","strokeWidth":1,"strokeDash":[1,3]},"encoding":{"x2":{"field":"b2"}}},
{"data":{"name":"bars"},"mark":{"type":"rule","color":"#787b86","strokeWidth":1},"encoding":{"y2":{"field":"p2"}}},
{"data":{"name":"drawings"},"transform":[{"filter":"datum.s=='a'||datum.s=='c'||datum.s=='d'"}],"mark":{"type":"line","color":"#ff9800","strokeWidth":2.5,"interpolate":"cardinal"},"encoding":{"order":{"field":"i"},"detail":{"field":"s"}}},
{"data":{"name":"drawings"},"transform":[{"filter":"datum.s=='g'"}],"mark":{"type":"line","color":"#4caf50","strokeWidth":2.2,"interpolate":"monotone"},"encoding":{"order":{"field":"i"}}},
{"data":{"name":"drawings"},"transform":[{"filter":"datum.s=='r'"}],"mark":{"type":"line","color":"#f23645","strokeWidth":2.2,"interpolate":"monotone"},"encoding":{"order":{"field":"i"}}}
]},
{"encoding":{
"x":{"field":"b","type":"quantitative","scale":{"domain":[-81.8,763],"nice":false,"zero":false},"axis":null}},
"resolve":{"axis":{"y":"independent"}},
"layer":[
{"data":{"values":[{"b":-74.5,"b2":693,"v":100,"c":"#640000"},{"b":-74.5,"b2":693,"v":-100,"c":"#0b5a0b"}]},"mark":{"type":"rule","strokeWidth":3},"encoding":{"y":{"field":"v","type":"quantitative","scale":{"domain":[-476,1042],"nice":false,"zero":false},"axis":{"orient":"right","offset":-110,"values":[-100,0,100],"labelAlign":"left","labelBaseline":"middle","labelOffset":{"condition":{"test":"datum.value==100","value":-3.5},"value":-1.5},"labelExpr":"replace(format(datum.value,'.1f'),'.',',')"}},"x2":{"field":"b2"},"stroke":{"field":"c","type":"nominal","scale":null,"legend":null}}},
{"data":{"name":"hist"},"mark":{"type":"rule","strokeWidth":1.1},"encoding":{"y":{"field":"v","type":"quantitative","axis":null},"y2":{"datum":0},"color":{"field":"c","type":"nominal","legend":null,"scale":{"domain":["o","y","l","r","g","b","m","p","d","k","O","R","G"],"range":["#ff7a00","#ffee00","#6b5a00","#6a2400","#3c8c3c","#1010ff","#ff00ff","#5a0060","#14146a","#ff6a6a","#ff8a0a","#ff0000","#00ff00"]}}}},
{"data":{"name":"chipsTop"},"mark":{"type":"rule","strokeWidth":1.9},"encoding":{"y":{"datum":104,"axis":null},"y2":{"datum":115},"color":{"field":"c","type":"nominal","legend":null}}},
{"data":{"name":"chipsBottom"},"mark":{"type":"rule","strokeWidth":1.9},"encoding":{"y":{"datum":-104,"axis":null},"y2":{"datum":-114},"color":{"field":"c","type":"nominal","legend":null}}},
{"data":{"values":[{"b":-74.5,"b2":693,"v":0}]},"mark":{"type":"rule","color":"#9a6a6a","strokeWidth":1,"strokeDash":[4,4]},"encoding":{"y":{"field":"v","type":"quantitative","axis":null},"x2":{"field":"b2"}}},
{"data":{"name":"fast"},"mark":{"type":"line","color":"#d80a00","strokeWidth":1.2,"interpolate":"monotone","xOffset":0.9},"encoding":{"y":{"field":"v","type":"quantitative","axis":null}}},
{"data":{"name":"long"},"mark":{"type":"line","color":"#c4c4c4","strokeWidth":1.4,"strokeDash":[5,5],"interpolate":"monotone"},"encoding":{"y":{"field":"v","type":"quantitative","axis":null}}},
{"data":{"name":"slow"},"mark":{"type":"line","color":"#22e000","strokeWidth":1.5,"strokeDash":[5,5],"interpolate":"monotone"},"encoding":{"y":{"field":"v","type":"quantitative","axis":null}}},
{"data":{"name":"fast"},"mark":{"type":"line","color":"#8f6c0c","strokeWidth":2,"interpolate":"monotone"},"encoding":{"y":{"field":"v","type":"quantitative","axis":null}}},
{"data":{"name":"flagsTop"},"mark":{"type":"point","filled":true,"opacity":1,"size":576,"strokeWidth":0,"shape":"M-1 -0.75 C-0.6 -1,-0.3 -0.95,0 -0.7 C0.3 -0.5,0.6 -0.55,1 -0.75 L1 0.15 C0.6 0.35,0.3 0.3,0 0.1 C-0.3 -0.1,-0.45 -0.05,-0.58 0 L-0.58 0.875 L-1 0.875 Z"},"encoding":{"y":{"datum":127,"axis":null},"color":{"field":"c","type":"nominal","legend":null}}},
{"data":{"name":"flagsBottom"},"mark":{"type":"point","filled":true,"opacity":1,"size":576,"strokeWidth":0,"shape":"M-1 -0.75 C-0.6 -1,-0.3 -0.95,0 -0.7 C0.3 -0.5,0.6 -0.55,1 -0.75 L1 0.15 C0.6 0.35,0.3 0.3,0 0.1 C-0.3 -0.1,-0.45 -0.05,-0.58 0 L-0.58 0.875 L-1 0.875 Z"},"encoding":{"y":{"datum":-124,"axis":null},"color":{"field":"c","type":"nominal","legend":null}}},
{"data":{"values":[{"b":326.9,"v":-138.8}]},"mark":{"type":"point","filled":true,"opacity":1,"color":"#0b6b5b","size":625,"strokeWidth":0,"shape":"M0 -0.68 L1 0.28 L0.5 0.28 L0.5 0.68 L-0.5 0.68 L-0.5 0.28 L-1 0.28 Z"},"encoding":{"y":{"field":"v","type":"quantitative","axis":null}}}
]},
{"encoding":{
"x":{"field":"b","type":"quantitative","scale":{"domain":[-81.8,763],"nice":false,"zero":false},"axis":null},
"y":{"field":"p","type":"quantitative","scale":{"domain":[67431,71961],"nice":false,"zero":false},"axis":null}},
"layer":[
{"data":{"values":[{"b":-81.8,"b2":-74.5,"p":67431,"p2":71961},{"b":755.7,"b2":763,"p":67431,"p2":71961},{"b":-81.8,"b2":763,"p":71801,"p2":71961},{"b":-81.8,"b2":763,"p":67431,"p2":67774}]},"mark":{"type":"rect","color":"#1e1e1e","opacity":1},"encoding":{"x2":{"field":"b2"},"y2":{"field":"p2"}}},
{"data":{"values":[{"b":-74.5,"b2":755.7,"p":67774,"p2":71801}]},"mark":{"type":"rect","fill":null,"filled":false,"stroke":"#333333","strokeWidth":1},"encoding":{"x2":{"field":"b2"},"y2":{"field":"p2"}}},
{"data":{"values":[{"b":695.8,"b2":753.5,"p":71781,"p2":71633}]},"mark":{"type":"rect","color":"#141414","stroke":"#3a3a3a","strokeWidth":1,"cornerRadius":5,"opacity":1},"encoding":{"x2":{"field":"b2"},"y2":{"field":"p2"}}},
{"data":{"values":[{"b":693.6,"b2":752.3,"p":70707,"p2":70438}]},"mark":{"type":"rect","color":"#787b86","opacity":1,"cornerRadius":1},"encoding":{"x2":{"field":"b2"},"y2":{"field":"p2"}}},
{"data":{"values":[{"b":702,"p":71706,"t":"USDT"}]},"mark":{"type":"text","align":"left","baseline":"middle","font":"Liberation Sans","fontSize":13,"color":"#d1d4dc"},"encoding":{"text":{"field":"t"}}},
{"data":{"values":[{"b":702,"p":70638,"t":"70\u2009641,7"}]},"mark":{"type":"text","align":"left","baseline":"middle","font":"Liberation Sans","fontSize":22,"color":"#ffffff"},"encoding":{"text":{"field":"t"}}},
{"data":{"values":[{"b":702,"p":70517,"t":"01:23"}]},"mark":{"type":"text","align":"left","baseline":"middle","font":"Liberation Sans","fontSize":21,"color":"#d4d6dc"},"encoding":{"text":{"field":"t"}}},
{"data":{"values":[{"b":684,"p":71299,"t":"1ч"},{"b":684,"p":70587,"t":"1ч"},{"b":684,"p":69870,"t":"1ч"}]},"mark":{"type":"text","align":"center","baseline":"middle","font":"Liberation Sans","fontSize":13,"color":"#2962ff"},"encoding":{"text":{"field":"t"}}},
{"data":{"values":[{"b":-74.5,"p":71873,"t":"donatakkluk создал(а) график на TradingView.com, Мар 24, 2026 03:58 UTC+3"}]},"mark":{"type":"text","align":"left","baseline":"middle","font":"Open Sans","fontSize":14.5,"color":"#d1d4dc"},"encoding":{"text":{"field":"t"}}},
{"data":{"values":[{"b":-47.6,"p":67607,"t":"TradingView"}]},"mark":{"type":"text","align":"left","baseline":"middle","font":"Inter","fontWeight":600,"fontSize":25,"color":"#dcdcdc"},"encoding":{"text":{"field":"t"}}},
{"data":{"values":[{"b":-63,"p":67607}]},"mark":{"type":"point","filled":true,"opacity":1,"color":"#dcdcdc","size":1421,"strokeWidth":0,"shape":"M-1 -0.49 L-0.17 -0.49 L-0.17 0.49 L-0.56 0.49 L-0.56 -0.08 L-1 -0.08 Z M-0.01 -0.31 A0.16 0.16 0 1 1 0.31 -0.31 A0.16 0.16 0 1 1 -0.01 -0.31 Z M0.47 -0.49 L1 -0.49 L0.59 0.49 L0.15 0.49 Z"}}
]}
]
}
